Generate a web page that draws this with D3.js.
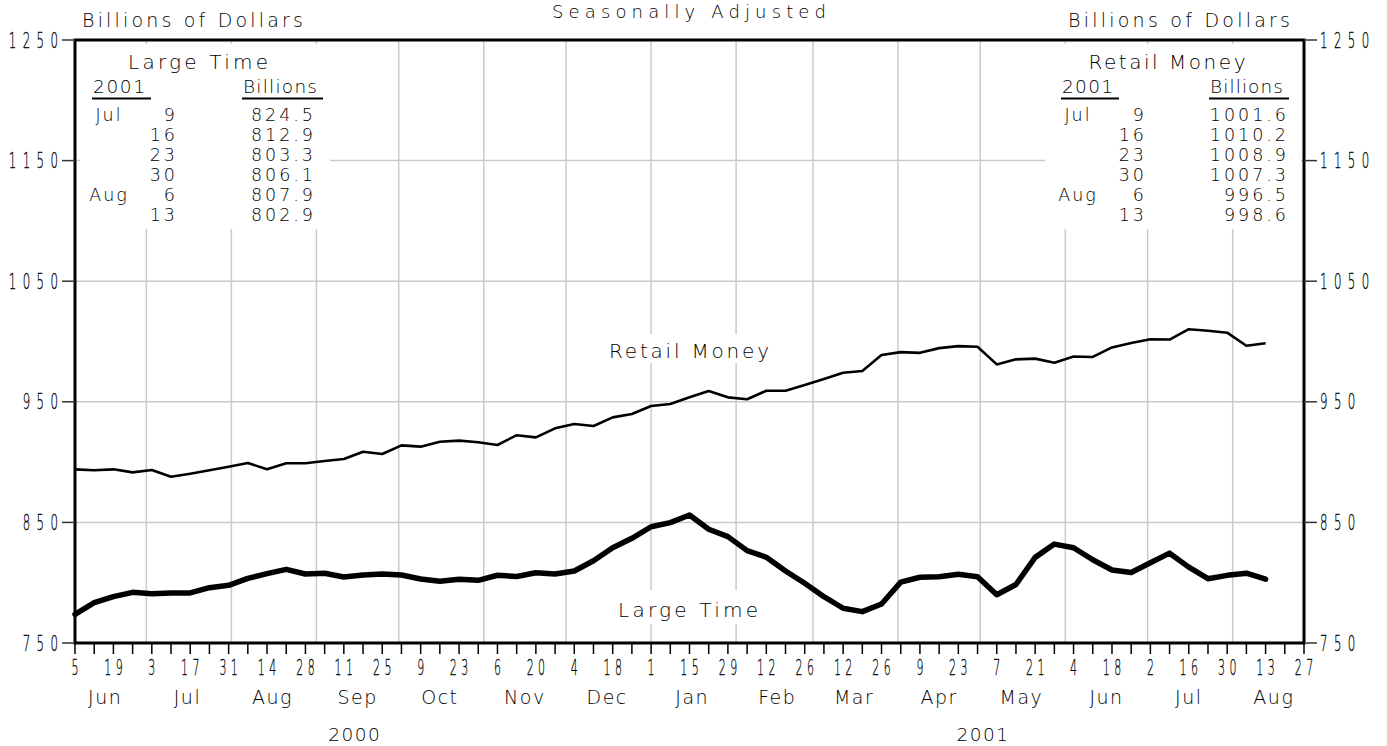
<!DOCTYPE html>
<html><head><meta charset="utf-8">
<script src="https://cdn.jsdelivr.net/npm/d3@7"></script>
<style>
body{margin:0;background:#fff}
text{font-family:"DejaVu Sans",sans-serif;font-weight:200;fill:#000}
text.cond{font-weight:200;stroke:#000;stroke-width:0.3px}
</style>
</head><body>
<svg id="chart" width="1387" height="746"></svg>
<script>
// ---------------- data ----------------
const startDate = "2000-06-05";   // first weekly observation (Monday)
const endDate   = "2001-08-27";   // end of x axis
const retailMoney = [
  894.0, 893.2, 894.0, 891.5, 893.4, 887.9, 890.4, 893.2, 896.2, 899.3,
  894.0, 899.0, 899.0, 900.9, 902.6, 908.6, 906.7, 913.9, 912.8, 916.9,
  917.8, 916.4, 914.2, 922.3, 920.5, 928.0, 931.6, 929.9, 937.1, 939.9,
  946.5, 948.2, 953.7, 958.9, 953.7, 952.1, 959.2, 959.2, 963.9, 968.9,
  974.1, 975.5, 988.8, 991.2, 990.6, 994.5, 996.2, 995.6, 981.0, 985.2,
  985.8, 982.4, 987.5, 987.2, 995.1, 998.8, 1001.8, 1001.6, 1010.2, 1008.9,
  1007.3, 996.5, 998.6
];
const largeTime = [
  773.8, 783.4, 788.4, 792.0, 790.9, 791.5, 791.5, 795.9, 797.8, 803.6,
  807.5, 811.1, 807.2, 807.8, 804.7, 806.4, 807.2, 806.4, 803.1, 801.2,
  802.8, 802.0, 806.2, 805.2, 808.3, 807.2, 809.7, 818.2, 829.0, 836.8,
  846.4, 849.8, 856.1, 844.3, 838.2, 826.6, 821.1, 809.7, 799.5, 788.4,
  778.8, 776.0, 782.3, 800.5, 804.5, 805.0, 807.0, 805.0, 790.0, 798.5,
  821.0, 832.0, 829.0, 819.0, 810.5, 808.5, 816.5, 824.5, 812.9, 803.3,
  806.1, 807.9, 802.9
];
const yTicks = [750, 850, 950, 1050, 1150, 1250];
const tableYear = "2001";
const tableMonths = ["Jul", "", "", "", "Aug", ""];
const tableDays = [9, 16, 23, 30, 6, 13];
const yearLabels = [{year: "2000", at: "2000-09-15"}, {year: "2001", at: "2001-05-02"}];
const titleText = "Seasonally Adjusted";
const unitText = "Billions of Dollars";

// ---------------- layout ----------------
const L = 75, R = 1304, T = 40, B = 643;
const svg = d3.select("#chart");
const parse = d3.utcParse("%Y-%m-%d");
const t0 = parse(startDate), t1 = parse(endDate);
const dates = retailMoney.map((_, i) => d3.utcDay.offset(t0, 7 * i));

const x = d3.scaleUtc().domain([t0, t1]).range([L, R]);
const y = d3.scaleLinear().domain([750, 1250]).range([B, T]);
const GRID = "#cacaca";

// grid
svg.append("g").selectAll("line").data(d3.utcMonth.range(d3.utcMonth.ceil(t0), t1))
  .join("line").attr("x1", d => x(d)).attr("x2", d => x(d)).attr("y1", T).attr("y2", B)
  .attr("stroke", GRID).attr("stroke-width", 1.5);
svg.append("g").selectAll("line").data(yTicks.slice(1, -1))
  .join("line").attr("x1", L).attr("x2", R).attr("y1", d => y(d)).attr("y2", d => y(d))
  .attr("stroke", GRID).attr("stroke-width", 1.5);

// white boxes for tables and labels
[[80, 44, 250, 185], [1045, 44, 256, 185], [600, 334, 176, 29], [608, 590, 160, 34]].forEach(b =>
  svg.append("rect").attr("x", b[0]).attr("y", b[1]).attr("width", b[2]).attr("height", b[3]).attr("fill", "#fff"));

// series
const line = d3.line().x((d, i) => x(dates[i])).y(d => y(d));
svg.append("path").datum(retailMoney).attr("d", line).attr("fill", "none")
  .attr("stroke", "#000").attr("stroke-width", 2.6).attr("stroke-linejoin", "round");
svg.append("path").datum(largeTime).attr("d", line).attr("fill", "none")
  .attr("stroke", "#000").attr("stroke-width", 5.5).attr("stroke-linejoin", "round").attr("stroke-linecap", "round");

// frame
svg.append("rect").attr("x", L).attr("y", T).attr("width", R - L).attr("height", B - T)
  .attr("fill", "none").attr("stroke", "#000").attr("stroke-width", 3);

// condensed, letter-spaced digits (stroke-font look)
function condensed(g, xp, yp, str, size, sx, ls, anchor) {
  const shift = anchor === "end" ? ls * sx : anchor === "middle" ? ls * sx / 2 : 0;
  return g.append("text").attr("class", "cond")
    .attr("transform", `translate(${xp + shift},${yp}) scale(${sx},1)`)
    .attr("font-size", size).attr("letter-spacing", ls).attr("text-anchor", anchor).text(str);
}

// y axes
const yAx = svg.append("g");
yTicks.forEach(v => {
  const yy = y(v);
  yAx.append("line").attr("x1", 62).attr("x2", L).attr("y1", yy).attr("y2", yy).attr("stroke", "#333").attr("stroke-width", 1.5);
  yAx.append("line").attr("x1", R).attr("x2", 1317).attr("y1", yy).attr("y2", yy).attr("stroke", "#333").attr("stroke-width", 1.5);
  condensed(yAx, 58, yy + 7.5, String(v), 21, 0.56, 11.5, "end");
  condensed(yAx, 1320, yy + 7.5, String(v), 21, 0.56, 11.5, "start");
});

// x axis ticks
const weeks = d3.utcMonday.range(t0, d3.utcDay.offset(t1, 1));
const xAx = svg.append("g");
const fmtDay = d3.utcFormat("%-d");
weeks.forEach((d, i) => {
  const xx = x(d);
  xAx.append("line").attr("x1", xx).attr("x2", xx).attr("y1", B).attr("y2", B + 11).attr("stroke", "#000").attr("stroke-width", 1.5);
  if (i % 2 === 0) condensed(xAx, xx, 675, fmtDay(d), 22, 0.5, 9, "middle");
});
const fmtMon = d3.utcFormat("%b");
d3.utcMonth.range(d3.utcMonth.floor(t0), t1).forEach(m => {
  xAx.append("text").attr("x", x(d3.utcDay.offset(m, 15))).attr("y", 704).attr("font-size", 19)
    .attr("text-anchor", "middle").attr("letter-spacing", 1.5).text(fmtMon(m));
});
yearLabels.forEach(yl => {
  xAx.append("text").attr("x", x(parse(yl.at))).attr("y", 741).attr("font-size", 18.5)
    .attr("text-anchor", "middle").attr("letter-spacing", 1.5).text(yl.year);
});

// headers
function fitText(xp, yp, str, len, size) {
  return svg.append("text").attr("x", xp).attr("y", yp).attr("font-size", size)
    .attr("textLength", len).attr("lengthAdjust", "spacing").text(str);
}
fitText(82, 27, unitText, 221, 19);
fitText(1068, 27, unitText, 222, 19);
fitText(689 - 137, 17.5, titleText, 274, 18);

// inline labels
fitText(689 - 80, 358, "Retail Money", 160, 20);
fitText(688 - 70, 617, "Large Time", 140, 20);

// tables
function table(title, values, o) {
  fitText(o.titleX - o.titleW / 2, 69, title, o.titleW, 20);
  fitText(o.yearX, 93, tableYear, o.yearW, 18.5);
  fitText(o.billX, 93, "Billions", o.billW, 18.5);
  svg.append("line").attr("x1", o.yearX - 1).attr("x2", o.yearX + o.yearW + 6).attr("y1", 98.5).attr("y2", 98.5).attr("stroke", "#000").attr("stroke-width", 2);
  svg.append("line").attr("x1", o.billX - 1).attr("x2", o.billX + o.billW + 6).attr("y1", 98.5).attr("y2", 98.5).attr("stroke", "#000").attr("stroke-width", 2);
  values.forEach((v, i) => {
    const yy = 120.5 + 20.1 * i;
    if (tableMonths[i]) svg.append("text").attr("x", o.monX).attr("y", yy).attr("font-size", 17.5)
      .attr("text-anchor", "middle").attr("letter-spacing", 2).text(tableMonths[i]);
    svg.append("text").attr("x", o.dayX + 3).attr("y", yy).attr("font-size", 17.5)
      .attr("text-anchor", "end").attr("letter-spacing", 3).text(tableDays[i]);
    svg.append("text").attr("x", o.valX + 3).attr("y", yy).attr("font-size", 17.5)
      .attr("text-anchor", "end").attr("letter-spacing", 3).text(v.toFixed(1));
  });
}
table("Large Time", largeTime.slice(-6), {titleX: 198, titleW: 140, yearX: 93, yearW: 52, billX: 243, billW: 74, monX: 109, dayX: 175, valX: 313});
table("Retail Money", retailMoney.slice(-6), {titleX: 1167, titleW: 157, yearX: 1062, yearW: 51, billX: 1210, billW: 73, monX: 1078, dayX: 1144, valX: 1286});
</script>
</body></html>
